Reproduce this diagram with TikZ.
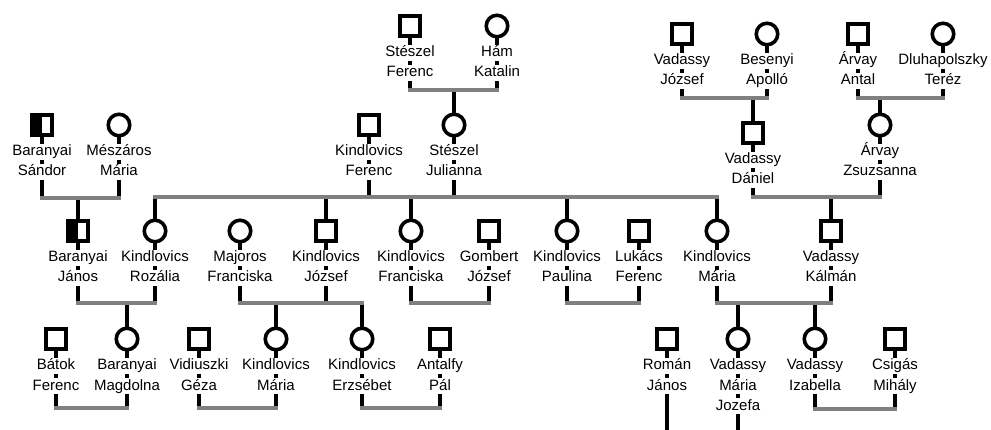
\documentclass[tikz,border=0pt]{standalone}
\usepackage{fontspec}
\setmainfont{Liberation Sans}
\pgfdeclarelayer{bg}
\pgfsetlayers{bg,main}
\definecolor{bargray}{RGB}{128,128,128}
\tikzset{
 sym/.style={draw=black, line width=3.6pt, fill=white, inner sep=0pt},
 male/.style={sym, rectangle, minimum size=20.5pt},
 female/.style={sym, circle, minimum size=21.5pt},
 halfmale/.style={male, path picture={\fill[black] (path picture bounding box.south west) rectangle (path picture bounding box.north);}},
 lbl/.style={fill=white, inner sep=0.5pt, text height=11.5pt, text depth=3.5pt, font=\fontsize{15}{18}\selectfont},
 kin/.style={draw=black, line width=3.5pt},
 bar/.style={draw=bargray, line width=3.8pt, line cap=rect},
}
\newcommand{\pp}[6]{%
 \node[#2] (#1) at (#3,#4) {};
 \node[lbl] (#1-a) at (#3,#4+27) {#5};
 \node[lbl] (#1-b) at (#3,#4+47) {#6};
}
\begin{document}
\begin{tikzpicture}[x=1pt,y=-1pt]
\useasboundingbox (0,0) rectangle (991,430);
% generation 1
\pp{SF}{male}{410}{26}{Stészel}{Ferenc}
\pp{HK}{female}{497}{26}{Hám}{Katalin}
\pp{VJ}{male}{682}{34}{Vadassy}{József}
\pp{BA}{female}{767}{34}{Besenyi}{Apolló}
\pp{AA}{male}{858}{34}{Árvay}{Antal}
\pp{DT}{female}{943}{34}{Dluhapolszky}{Teréz}
% generation 2
\pp{BS}{halfmale}{42}{125}{Baranyai}{Sándor}
\pp{MM}{female}{119}{125}{Mészáros}{Mária}
\pp{KF}{male}{369}{125}{Kindlovics}{Ferenc}
\pp{SJ}{female}{454}{125}{Stészel}{Julianna}
\pp{VD}{male}{753}{133}{Vadassy}{Dániel}
\pp{AZ}{female}{880}{125}{Árvay}{Zsuzsanna}
% generation 3
\pp{BJ}{halfmale}{78}{231}{Baranyai}{János}
\pp{KR}{female}{155}{231}{Kindlovics}{Rozália}
\pp{MF}{female}{240}{231}{Majoros}{Franciska}
\pp{KJ}{male}{326}{231}{Kindlovics}{József}
\pp{KFr}{female}{411}{231}{Kindlovics}{Franciska}
\pp{GJ}{male}{489}{231}{Gombert}{József}
\pp{KP}{female}{567}{231}{Kindlovics}{Paulina}
\pp{LF}{male}{639}{231}{Lukács}{Ferenc}
\pp{KM}{female}{717}{231}{Kindlovics}{Mária}
\pp{VK}{male}{831}{231}{Vadassy}{Kálmán}
% generation 4
\pp{BF}{male}{56}{339}{Bátok}{Ferenc}
\pp{BMg}{female}{127}{339}{Baranyai}{Magdolna}
\pp{VG}{male}{199}{339}{Vidiuszki}{Géza}
\pp{KMa}{female}{276}{339}{Kindlovics}{Mária}
\pp{KE}{female}{362}{339}{Kindlovics}{Erzsébet}
\pp{AP}{male}{440}{339}{Antalfy}{Pál}
\pp{RJ}{male}{667}{339}{Román}{János}
\pp{VMJ}{female}{738}{339}{Vadassy}{Mária}
\node[lbl] (VMJ-c3) at (738,406) {Jozefa};
\pp{VI}{female}{815}{339}{Vadassy}{Izabella}
\pp{CM}{male}{895}{339}{Csigás}{Mihály}
% bar points
\coordinate (SF-m) at (410,90); \coordinate (HK-m) at (497,90); \coordinate (SJ-c) at (454,90);
\coordinate (VJ-m) at (682,98); \coordinate (BA-m) at (767,98); \coordinate (VD-c) at (753,98);
\coordinate (AA-m) at (858,98); \coordinate (DT-m) at (943,98); \coordinate (AZ-c) at (880,98);
\coordinate (BS-m) at (42,198); \coordinate (MM-m) at (119,198); \coordinate (BJ-c) at (78,198);
\coordinate (KF-m) at (369,197); \coordinate (SJ-m) at (454,197);
\coordinate (KR-c) at (155,197); \coordinate (KJ-c) at (326,197); \coordinate (KFr-c) at (411,197);
\coordinate (KP-c) at (567,197); \coordinate (KM-c) at (717,197);
\coordinate (VD-m) at (753,197); \coordinate (AZ-m) at (880,197); \coordinate (VK-c) at (831,197);
\coordinate (BJ-m) at (78,303); \coordinate (KR-m) at (155,303); \coordinate (BMg-c) at (127,303);
\coordinate (MF-m) at (240,303); \coordinate (KJ-m) at (326,303); \coordinate (KMa-c) at (276,303); \coordinate (KE-c) at (362,303);
\coordinate (KFr-m) at (411,303); \coordinate (GJ-m) at (489,303);
\coordinate (KP-m) at (567,303); \coordinate (LF-m) at (639,303);
\coordinate (KM-m) at (717,303); \coordinate (VK-m) at (831,303); \coordinate (VMJ-c) at (738,303); \coordinate (VI-c) at (815,303);
\coordinate (BF-m) at (56,408); \coordinate (BMg-m) at (127,408);
\coordinate (VG-m) at (199,408); \coordinate (KMa-m) at (276,408);
\coordinate (KE-m) at (362,408); \coordinate (AP-m) at (440,408);
\coordinate (VI-m) at (815,409); \coordinate (CM-m) at (895,409);
\coordinate (RJ-m) at (667,432); \coordinate (VMJ-m) at (738,432);
\begin{pgfonlayer}{bg}
\foreach \p in {SF,HK,VJ,BA,AA,DT,BS,MM,KF,SJ,VD,AZ,BJ,KR,MF,KJ,KFr,GJ,KP,LF,KM,VK,BF,BMg,VG,KMa,KE,AP,RJ,VMJ,VI,CM}
  \draw[kin] (\p.center) -- (\p-m);
\foreach \c in {SJ,VD,AZ,BJ,KR,KJ,KFr,KP,KM,VK,BMg,KMa,KE,VMJ,VI}
  \draw[kin] (\c-c) -- (\c.center);
\draw[bar] (SF-m) -- (HK-m);
\draw[bar] (VJ-m) -- (BA-m);
\draw[bar] (AA-m) -- (DT-m);
\draw[bar] (BS-m) -- (MM-m);
\draw[bar] (KR-c) -- (KM-c);
\draw[bar] (VD-m) -- (AZ-m);
\draw[bar] (BJ-m) -- (KR-m);
\draw[bar] (MF-m) -- (KE-c);
\draw[bar] (KFr-m) -- (GJ-m);
\draw[bar] (KP-m) -- (LF-m);
\draw[bar] (KM-m) -- (VK-m);
\draw[bar] (BF-m) -- (BMg-m);
\draw[bar] (VG-m) -- (KMa-m);
\draw[bar] (KE-m) -- (AP-m);
\draw[bar] (VI-m) -- (CM-m);
\draw[bar] (RJ-m) -- (VMJ-m);
\end{pgfonlayer}
\end{tikzpicture}
\end{document}
